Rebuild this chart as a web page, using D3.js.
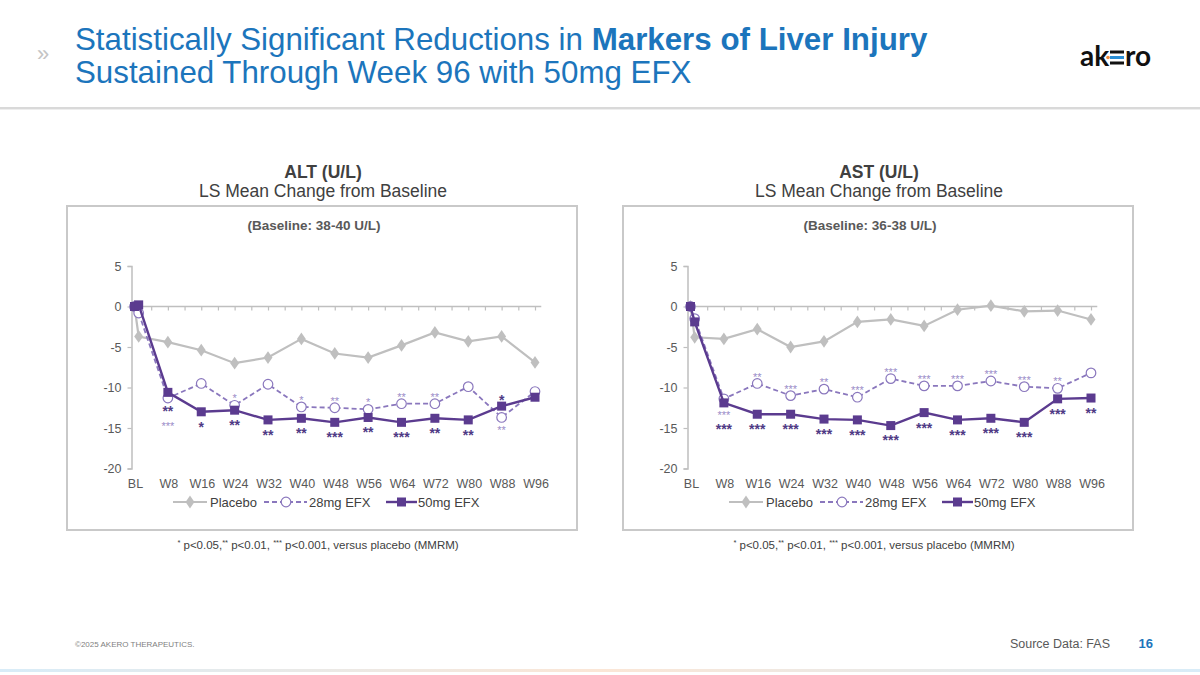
<!DOCTYPE html>
<html><head><meta charset="utf-8">
<script src="https://cdn.jsdelivr.net/npm/d3@7"></script>
<style>body{margin:0;background:#fff}svg{display:block}text{font-family:Arial,"Liberation Sans",sans-serif}</style>
</head><body><svg id="c" width="1200" height="675"></svg>
<script>
// ---------- data ----------
const weeks = [0, 1, 8, 16, 24, 32, 40, 48, 56, 64, 72, 80, 88, 96];
const tickWeeks = [0, 8, 16, 24, 32, 40, 48, 56, 64, 72, 80, 88, 96];
const tickLabels = ["BL", "W8", "W16", "W24", "W32", "W40", "W48", "W56", "W64", "W72", "W80", "W88", "W96"];
const yTicks = [5, 0, -5, -10, -15, -20];
const seriesNames = ["Placebo", "28mg EFX", "50mg EFX"];

const altPlacebo = [0, -3.7, -4.4, -5.4, -7.0, -6.3, -4.0, -5.8, -6.3, -4.8, -3.2, -4.3, -3.7, -6.9];
const alt28 = [0, -0.8, -11.3, -9.5, -12.2, -9.6, -12.4, -12.5, -12.7, -12.0, -12.0, -9.9, -13.7, -10.5];
const alt50 = [0, 0.2, -10.6, -13.0, -12.8, -14.0, -13.8, -14.3, -13.7, -14.3, -13.8, -14.0, -12.3, -11.2];
const alt28Sig = ["", "", "***", "", "*", "", "*", "**", "*", "**", "**", "", "**", ""];
const alt28Side = ["", "", "below", "", "above", "", "above", "above", "above", "above", "above", "", "below", ""];
const alt50Sig = ["", "", "**", "*", "**", "**", "**", "***", "**", "***", "**", "**", "*", ""];
const alt50Side = ["", "", "below", "below", "below", "below", "below", "below", "below", "below", "below", "below", "above", ""];
const altStackFirst = "50"; // which label sits nearer the points when both are below

const astPlacebo = [0, -3.8, -4.0, -2.8, -5.0, -4.3, -1.9, -1.6, -2.4, -0.4, 0.1, -0.6, -0.5, -1.6];
const ast28 = [0, -1.5, -11.4, -9.5, -11.0, -10.2, -11.2, -8.9, -9.8, -9.8, -9.2, -9.9, -10.1, -8.2];
const ast50 = [0, -1.9, -11.9, -13.3, -13.3, -13.9, -14.0, -14.7, -13.1, -14.0, -13.8, -14.3, -11.4, -11.3];
const ast28Sig = ["", "", "***", "**", "***", "**", "***", "***", "***", "***", "***", "***", "**", ""];
const ast28Side = ["", "", "below", "above", "above", "above", "above", "above", "above", "above", "above", "above", "above", ""];
const ast50Sig = ["", "", "***", "***", "***", "***", "***", "***", "***", "***", "***", "***", "***", "**"];
const ast50Side = ["", "", "below", "below", "below", "below", "below", "below", "below", "below", "below", "below", "below", "below"];
const astStackFirst = "28";

// ---------- styles ----------
const C = {
  title: "#1c75bc", text: "#404040", axis: "#bfbfbf", tick: "#595959",
  placebo: "#bfbfbf", p28: "#8a77bd", p50: "#5b3b8f", sig28: "#9a8cc8", sig50: "#4f3a85"
};
const svg = d3.select("#c");

// ---------- header ----------
svg.append("text").attr("x", 37).attr("y", 61).attr("fill", "#c4c4c4").attr("font-size", 22).text("»");
const t1 = svg.append("text").attr("x", 75).attr("y", 50).attr("fill", C.title).attr("font-size", 31.3);
t1.append("tspan").text("Statistically Significant Reductions in ");
t1.append("tspan").attr("font-weight", "bold").text("Markers of Liver Injury");
svg.append("text").attr("x", 75).attr("y", 83).attr("fill", C.title).attr("font-size", 31.3)
  .text("Sustained Through Week 96 with 50mg EFX");
svg.append("rect").attr("x", 0).attr("y", 107).attr("width", 1200).attr("height", 2).attr("fill", "#d9d9d9");
svg.append("rect").attr("x", 0).attr("y", 109).attr("width", 1200).attr("height", 1).attr("fill", "#eeeeee");

// logo
const logo = svg.append("g");
logo.append("text").attr("x", 1080).attr("y", 66).attr("font-size", 28).attr("font-weight", "bold")
  .attr("fill", "#111").style("font-family", "Lato, 'DejaVu Sans', sans-serif").text("ak");
[[52, "#111"], [57.5, "#2b8fd6"], [63, "#111"]].forEach(([yy, col]) => {
  logo.append("rect").attr("x", 1110).attr("y", yy - 1.5).attr("width", 14).attr("height", 3).attr("fill", col);
});
logo.append("circle").attr("cx", 1108).attr("cy", 57.5).attr("r", 1.8).attr("fill", "#f08a3c");
logo.append("text").attr("x", 1125).attr("y", 66).attr("font-size", 28).attr("font-weight", "bold")
  .attr("fill", "#111").style("font-family", "Lato, 'DejaVu Sans', sans-serif").text("ro");

// footer
svg.append("text").attr("x", 75).attr("y", 647).attr("font-size", 8).attr("fill", "#7f7f7f").text("©2025 AKERO THERAPEUTICS.");
svg.append("text").attr("x", 1110).attr("y", 648).attr("text-anchor", "end").attr("font-size", 12.5).attr("fill", "#595959").text("Source Data: FAS");
svg.append("text").attr("x", 1153).attr("y", 648).attr("text-anchor", "end").attr("font-size", 13).attr("font-weight", "bold").attr("fill", C.title).text("16");
const grad = svg.append("defs").append("linearGradient").attr("id", "bg");
[["0%", "#d8ecf8"], ["50%", "#fbe6d6"], ["100%", "#d8ecf8"]].forEach(([o, c]) => grad.append("stop").attr("offset", o).attr("stop-color", c));
svg.append("rect").attr("x", 0).attr("y", 669).attr("width", 1200).attr("height", 3).attr("fill", "url(#bg)");

// ---------- panels ----------
function drawPanel(ox, title, baseline, placebo, s28, s50, sig28, side28, sig50, side50, stackFirst) {
  const g = svg.append("g").attr("transform", `translate(${ox},0)`);
  g.append("text").attr("x", 323).attr("y", 178).attr("text-anchor", "middle").attr("font-size", 17.5)
    .attr("font-weight", "bold").attr("fill", C.text).text(title);
  g.append("text").attr("x", 323).attr("y", 197).attr("text-anchor", "middle").attr("font-size", 17.5)
    .attr("fill", C.text).text("LS Mean Change from Baseline");
  g.append("rect").attr("x", 67).attr("y", 206).attr("width", 510).attr("height", 324)
    .attr("fill", "none").attr("stroke", "#c9c9c9").attr("stroke-width", 2);
  g.append("text").attr("x", 314).attr("y", 230).attr("text-anchor", "middle").attr("font-size", 13.5)
    .attr("font-weight", "bold").attr("fill", "#595959").text(baseline);

  const x = d3.scaleLinear().domain([0, 96]).range([134.5, 535]);
  const y = d3.scaleLinear().domain([-20, 5]).range([468.5, 266]);

  // y axis
  const ya = d3.axisLeft(y).tickValues(yTicks).tickSize(4).tickPadding(6).tickFormat(d3.format("d"));
  const yg = g.append("g").attr("transform", "translate(131.5,0)").call(ya);
  yg.select(".domain").attr("stroke", C.axis).attr("stroke-width", 1.5);
  yg.selectAll(".tick line").attr("stroke", C.axis).attr("stroke-width", 1.2);
  yg.selectAll(".tick text").attr("fill", C.tick).attr("font-size", 12.5).style("font-family", "Arial, 'Liberation Sans', sans-serif")
    .text(d => d < 0 ? "-" + Math.abs(d) : d);

  // x axis line at zero with minor ticks
  const xa = d3.axisBottom(x).tickValues(d3.range(4, 97, 4)).tickSize(4).tickFormat("");
  const xg = g.append("g").attr("transform", `translate(0,${y(0)})`).call(xa);
  xg.select(".domain").remove();
  xg.selectAll(".tick line").attr("stroke", C.axis).attr("stroke-width", 1.2);
  g.append("line").attr("x1", 131.5).attr("x2", x(97.5)).attr("y1", y(0)).attr("y2", y(0))
    .attr("stroke", C.axis).attr("stroke-width", 1.5);

  // category labels at bottom
  g.selectAll(".xl").data(tickWeeks).enter().append("text")
    .attr("x", (d) => x(d) + 1).attr("y", 487.5).attr("text-anchor", "middle")
    .attr("font-size", 12.5).attr("fill", C.tick).text((d, i) => tickLabels[i]);

  const line = d3.line().x((d, i) => x(weeks[i])).y(d => y(d));
  // placebo
  g.append("path").attr("d", line(placebo)).attr("fill", "none").attr("stroke", C.placebo).attr("stroke-width", 2.2);
  g.selectAll(".pm").data(placebo).enter().append("path")
    .attr("d", d3.symbol(d3.symbolDiamond, 52)())
    .attr("transform", (d, i) => `translate(${x(weeks[i])},${y(d)}) scale(1.15,0.95)`).attr("fill", C.placebo);
  // 28mg
  g.append("path").attr("d", line(s28)).attr("fill", "none").attr("stroke", C.p28).attr("stroke-width", 1.8)
    .attr("stroke-dasharray", "5,3");
  g.selectAll(".m28").data(s28).enter().append("circle")
    .attr("cx", (d, i) => x(weeks[i])).attr("cy", d => y(d)).attr("r", 4.8)
    .attr("fill", "#fff").attr("stroke", C.p28).attr("stroke-width", 1.2);
  // 50mg
  g.append("path").attr("d", line(s50)).attr("fill", "none").attr("stroke", C.p50).attr("stroke-width", 2.4);
  g.selectAll(".m50").data(s50).enter().append("rect")
    .attr("x", (d, i) => x(weeks[i]) - 4.5).attr("y", d => y(d) - 4.5).attr("width", 9).attr("height", 9)
    .attr("fill", C.p50);

  // significance labels
  const fs28 = 11, fs50 = 14;
  function put(xc, yc, txt, fs, col, bold) {
    g.append("text").attr("x", xc).attr("y", yc + fs * 0.6).attr("text-anchor", "middle")
      .attr("font-size", fs).attr("font-weight", bold ? "bold" : "normal").attr("fill", col).text(txt);
  }
  weeks.forEach((w, i) => {
    const xc = x(w);
    const base = Math.max(y(s28[i]), y(s50[i]));
    const both = side28[i] === "below" && side50[i] === "below";
    if (sig28[i]) {
      let yc;
      if (side28[i] === "above") yc = y(s28[i]) - 9.5;
      else {
        yc = base + 10;
        if (both && stackFirst === "50") yc = base + 25;
      }
      put(xc, yc, sig28[i], fs28, C.sig28, false);
    }
    if (sig50[i]) {
      let yc;
      if (side50[i] === "above") yc = y(s50[i]) - 10;
      else {
        yc = base + 11.5;
        if (both && stackFirst === "50") yc = base + 9.5;
        if (both && stackFirst === "28") yc = base + 10 + 12.5;
      }
      put(xc, yc, sig50[i], fs50, C.sig50, true);
    }
  });

  // legend
  const ly = 502;
  const lg = g.append("g");
  lg.append("line").attr("x1", 173).attr("x2", 207).attr("y1", ly).attr("y2", ly).attr("stroke", C.placebo).attr("stroke-width", 2.2);
  lg.append("path").attr("d", d3.symbol(d3.symbolDiamond, 52)()).attr("transform", `translate(190,${ly}) scale(1.15,0.95)`).attr("fill", C.placebo);
  lg.append("text").attr("x", 210).attr("y", ly + 4.5).attr("font-size", 13).attr("fill", C.text).text(seriesNames[0]);
  lg.append("line").attr("x1", 264).attr("x2", 307).attr("y1", ly).attr("y2", ly).attr("stroke", C.p28).attr("stroke-width", 1.8).attr("stroke-dasharray", "5,3");
  lg.append("circle").attr("cx", 286).attr("cy", ly).attr("r", 4.8).attr("fill", "#fff").attr("stroke", C.p28).attr("stroke-width", 1.2);
  lg.append("text").attr("x", 309).attr("y", ly + 4.5).attr("font-size", 13).attr("fill", C.text).text(seriesNames[1]);
  lg.append("line").attr("x1", 386).attr("x2", 417).attr("y1", ly).attr("y2", ly).attr("stroke", C.p50).attr("stroke-width", 2.4);
  lg.append("rect").attr("x", 397).attr("y", ly - 4.5).attr("width", 9).attr("height", 9).attr("fill", C.p50);
  lg.append("text").attr("x", 418).attr("y", ly + 4.5).attr("font-size", 13).attr("fill", C.text).text(seriesNames[2]);

  // footnote
  const fn = g.append("text").attr("x", 318).attr("y", 549).attr("text-anchor", "middle").attr("font-size", 11.5).attr("fill", C.text);
  fn.append("tspan").attr("font-size", 7.5).attr("dy", -4).text("*");
  fn.append("tspan").attr("dy", 4).text(" p<0.05,");
  fn.append("tspan").attr("font-size", 7.5).attr("dy", -4).text("**");
  fn.append("tspan").attr("dy", 4).text(" p<0.01, ");
  fn.append("tspan").attr("font-size", 7.5).attr("dy", -4).text("***");
  fn.append("tspan").attr("dy", 4).text(" p<0.001, versus placebo (MMRM)");
}

drawPanel(0, "ALT (U/L)", "(Baseline: 38-40 U/L)", altPlacebo, alt28, alt50, alt28Sig, alt28Side, alt50Sig, alt50Side, altStackFirst);
drawPanel(556, "AST (U/L)", "(Baseline: 36-38 U/L)", astPlacebo, ast28, ast50, ast28Sig, ast28Side, ast50Sig, ast50Side, astStackFirst);
</script></body></html>
